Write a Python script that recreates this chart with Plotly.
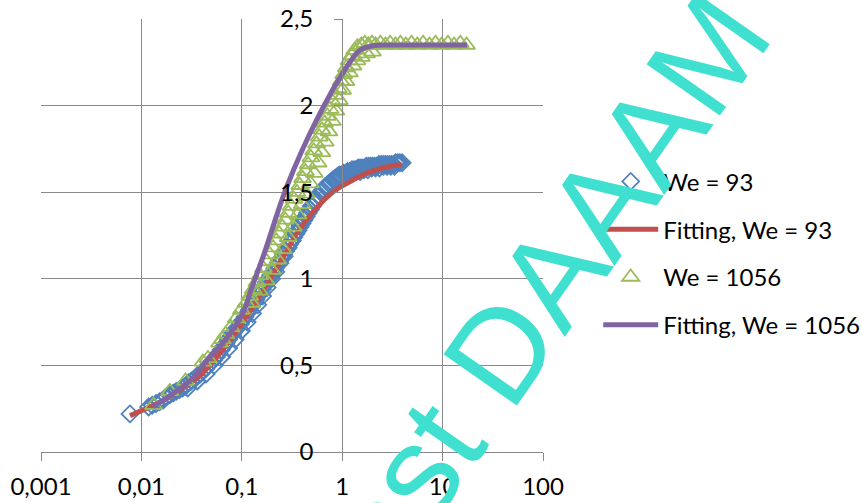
import plotly.graph_objects as go

# ---------------- data ----------------
we93_x = [0.0077, 0.0118, 0.0128, 0.0140, 0.0152, 0.0165, 0.0178, 0.0192, 0.0207, 0.0222,
          0.0240, 0.0258, 0.0275, 0.0295, 0.0315, 0.0338, 0.0360, 0.0385, 0.0410, 0.0437,
          0.0465, 0.0495, 0.0525, 0.0558, 0.0590, 0.0625, 0.0660, 0.0700, 0.0740, 0.0780,
          0.0825, 0.0870, 0.0920, 0.0970, 0.1020, 0.1075, 0.1130, 0.1190, 0.1250, 0.1315,
          0.1380, 0.1450, 0.1520, 0.1600, 0.1680, 0.1760, 0.1850, 0.1940, 0.2040, 0.2140,
          0.2250, 0.2360, 0.2480, 0.2600, 0.2730, 0.2860, 0.3000, 0.3150, 0.3300, 0.3460,
          0.3630, 0.3800, 0.3990, 0.4180, 0.4380, 0.4600, 0.4820, 0.5050, 0.5300, 0.5550,
          0.5820, 0.6100, 0.6400, 0.6700, 0.7030, 0.7370, 0.7730, 0.8100, 0.8500, 0.8910,
          0.9340, 0.9800, 1.0300, 1.0800, 1.1300, 1.1900, 1.2500, 1.3100, 1.3700, 1.4400,
          1.5100, 1.5800, 1.6600, 1.7400, 1.8300, 1.9200, 2.0100, 2.1100, 2.2100, 2.3200,
          2.4400, 2.5600, 2.6800, 2.8100, 2.9500, 3.1000, 3.2500, 3.4100, 3.5800, 3.7500,
          3.9500,
          0.0290, 0.0360, 0.0440, 0.0530, 0.0630, 0.0740, 0.0860, 0.0990, 0.1130, 0.1280,
          0.1440, 0.1610, 0.1790, 0.1980, 0.2180, 0.2400, 0.2640, 0.2900, 0.3180, 0.3480,
          0.3800, 0.4150, 0.4520, 0.4920, 0.5350, 0.5800, 0.6300, 0.6850, 0.7450, 0.8100,
          0.8800, 0.9600, 1.0500, 1.1500, 1.2600, 1.3800, 1.5100, 1.6500, 1.8000, 1.9700,
          2.1500, 2.3500, 2.5700, 2.8000, 3.0500, 3.3200]
we93_y = [0.22, 0.26, 0.27, 0.28, 0.29, 0.30, 0.32, 0.33, 0.34, 0.35,
          0.36, 0.37, 0.38, 0.40, 0.41, 0.42, 0.44, 0.45, 0.47, 0.48,
          0.50, 0.52, 0.53, 0.55, 0.57, 0.59, 0.61, 0.63, 0.65, 0.67,
          0.69, 0.71, 0.72, 0.74, 0.76, 0.78, 0.80, 0.82, 0.84, 0.86,
          0.88, 0.90, 0.92, 0.94, 0.96, 0.98, 1.00, 1.02, 1.04, 1.06,
          1.08, 1.10, 1.12, 1.14, 1.16, 1.18, 1.20, 1.22, 1.24, 1.26,
          1.28, 1.30, 1.32, 1.34, 1.36, 1.38, 1.40, 1.42, 1.44, 1.46,
          1.48, 1.50, 1.51, 1.53, 1.54, 1.55, 1.56, 1.57, 1.58, 1.59,
          1.60, 1.60, 1.61, 1.61, 1.62, 1.62, 1.63, 1.63, 1.63, 1.64,
          1.64, 1.64, 1.64, 1.65, 1.65, 1.65, 1.65, 1.65, 1.65, 1.66,
          1.66, 1.66, 1.66, 1.66, 1.66, 1.66, 1.66, 1.67, 1.67, 1.67,
          1.67,
          0.37, 0.41, 0.45, 0.50, 0.55, 0.60, 0.65, 0.70, 0.75, 0.80,
          0.85, 0.90, 0.95, 1.00, 1.04, 1.09, 1.13, 1.18, 1.22, 1.27,
          1.31, 1.35, 1.38, 1.42, 1.45, 1.48, 1.51, 1.53, 1.55, 1.57,
          1.58, 1.59, 1.60, 1.61, 1.61, 1.62, 1.62, 1.63, 1.63, 1.64,
          1.64, 1.64, 1.65, 1.65, 1.65, 1.65]

fit93_x = [0.0077, 0.012, 0.018, 0.026, 0.038, 0.055, 0.075, 0.10, 0.13, 0.17,
           0.22, 0.28, 0.35, 0.44, 0.557, 0.70, 0.90, 1.19, 1.6, 2.2, 3.0, 3.9]
fit93_y = [0.21, 0.26, 0.31, 0.37, 0.44, 0.54, 0.64, 0.74, 0.84, 0.95,
           1.06, 1.16, 1.26, 1.34, 1.41, 1.47, 1.52, 1.56, 1.60, 1.63, 1.65, 1.66]

we1056_x = [0.0132, 0.0192, 0.0275, 0.041, 0.046, 0.060, 0.064, 0.069, 0.078, 0.088,
            0.099, 0.110, 0.120, 0.130, 0.141, 0.152, 0.164, 0.177, 0.190, 0.205,
            0.220, 0.236, 0.253, 0.271, 0.290, 0.310, 0.331, 0.354, 0.378, 0.403,
            0.430, 0.458, 0.488, 0.520, 0.554, 0.590, 0.628, 0.668, 0.711, 0.757,
            0.806, 0.858, 0.913, 0.972, 1.035, 1.10, 1.17, 1.25, 1.33, 1.42,
            0.125, 0.150, 0.175, 0.200, 0.228, 0.258, 0.290, 0.325, 0.362, 0.400,
            0.440, 0.482, 0.527, 0.575, 0.626, 0.680, 0.738, 0.800, 0.866, 0.936,
            1.01, 1.09, 1.18, 1.28, 1.40, 1.55, 1.75, 2.0,
            1.55, 1.68, 1.82, 1.98, 2.15, 2.4, 2.7, 3.0, 3.4, 3.8,
            4.3, 4.9, 5.6, 6.4, 7.4, 8.5, 9.8, 11.3, 13.0, 15.0, 17.3]
we1056_y = [0.27, 0.35, 0.41, 0.52, 0.54, 0.63, 0.65, 0.68, 0.72, 0.77,
            0.82, 0.86, 0.90, 0.94, 0.98, 1.02, 1.06, 1.10, 1.14, 1.18,
            1.22, 1.26, 1.30, 1.34, 1.38, 1.42, 1.46, 1.50, 1.54, 1.58,
            1.62, 1.66, 1.70, 1.74, 1.78, 1.82, 1.86, 1.90, 1.94, 1.98,
            2.02, 2.06, 2.10, 2.14, 2.18, 2.22, 2.26, 2.29, 2.32, 2.34,
            0.86, 0.93, 0.99, 1.05, 1.11, 1.17, 1.24, 1.30, 1.37, 1.43,
            1.49, 1.55, 1.61, 1.67, 1.73, 1.79, 1.85, 1.91, 1.97, 2.03,
            2.09, 2.14, 2.19, 2.23, 2.26, 2.28, 2.30, 2.31,
            2.35, 2.36, 2.35, 2.36, 2.35, 2.36, 2.35, 2.36, 2.35, 2.36,
            2.35, 2.36, 2.35, 2.36, 2.35, 2.36, 2.35, 2.36, 2.35, 2.36, 2.35]

fit1056_x = [0.013, 0.0316, 0.048, 0.063, 0.10, 0.126, 0.168, 0.28, 0.56, 1.1,
             1.5, 2.0, 3.0, 5.0, 10.0, 17.5]
fit1056_y = [0.26, 0.42, 0.55, 0.62, 0.79, 0.95, 1.15, 1.53, 1.92, 2.22,
             2.32, 2.345, 2.35, 2.35, 2.35, 2.35]

x_tickvals = [0.001, 0.01, 0.1, 1, 10, 100]
x_ticktext = ["0,001", "0,01", "0,1", "1", "10", "100"]
y_tickvals = [0, 0.5, 1, 1.5, 2, 2.5]
y_ticktext = ["0", "0,5", "1", "1,5", "2", "2,5"]

names = ["We = 93", "Fitting, We = 93", "We = 1056", "Fitting, We = 1056"]
watermark = "Test DAAAM"

# ---------------- style ----------------
BLUE = "#4F81BD"
RED = "#C0504D"
GREEN = "#9BBB59"
PURPLE = "#8064A2"
GRID = "#898989"
FONT = "Lato"

fig = go.Figure()
fig.add_trace(go.Scatter(
    x=we93_x, y=we93_y, mode="markers", name=names[0], legendgroup="a",
    marker=dict(symbol="diamond-open", size=13, color=BLUE, line=dict(width=1.8, color=BLUE))))
fig.add_trace(go.Scatter(
    x=fit93_x, y=fit93_y, mode="lines", name=names[1], legendgroup="b",
    line=dict(color=RED, width=5, shape="spline")))
fig.add_trace(go.Scatter(
    x=we1056_x, y=we1056_y, mode="markers", name=names[2], legendgroup="c",
    marker=dict(symbol="triangle-up-open", size=15, color=GREEN, line=dict(width=1.8, color=GREEN))))
fig.add_trace(go.Scatter(
    x=fit1056_x, y=fit1056_y, mode="lines", name=names[3], legendgroup="d",
    line=dict(color=PURPLE, width=5, shape="spline")))

fig.update_layout(
    width=862, height=503, autosize=False,
    margin=dict(l=41, r=319, t=19, b=51, pad=0, autoexpand=False),
    paper_bgcolor="white", plot_bgcolor="white",
    font=dict(family=FONT, size=24, color="black"),
    showlegend=True,
    legend=dict(x=1.110, y=0.676, xanchor="left", yanchor="top",
                font=dict(family=FONT, size=24, color="black"),
                tracegroupgap=13.6, itemwidth=55, bgcolor="rgba(0,0,0,0)"),
    xaxis=dict(type="log", range=[-3, 2], tickvals=x_tickvals, ticktext=x_ticktext,
               showgrid=True, gridcolor=GRID, gridwidth=1.2,
               showline=True, linecolor=GRID, linewidth=1.2,
               ticks="outside", ticklen=8, tickcolor=GRID, tickwidth=1.2,
               ticklabelstandoff=5, zeroline=False, automargin=False,
               tickfont=dict(family=FONT, size=24, color="black")),
    yaxis=dict(range=[0, 2.5], tickvals=y_tickvals, ticktext=y_ticktext,
               anchor="free", position=0.6,
               showgrid=True, gridcolor=GRID, gridwidth=1.2,
               showline=True, linecolor=GRID, linewidth=1.2,
               ticks="outside", ticklen=8, tickcolor=GRID, tickwidth=1.2,
               ticklabelstandoff=16, zeroline=False, automargin=False,
               tickfont=dict(family=FONT, size=24, color="black")),
    annotations=[dict(text=watermark, xref="paper", yref="paper",
                      x=0.970, y=0.3256, xanchor="center", yanchor="middle",
                      textangle=-55, showarrow=False,
                      font=dict(family="Liberation Sans", size=130, color="#40E0D0"))],
)

fig.write_html("out.html", config={"displayModeBar": False},
               post_script="document.body.style.margin='0px';")
